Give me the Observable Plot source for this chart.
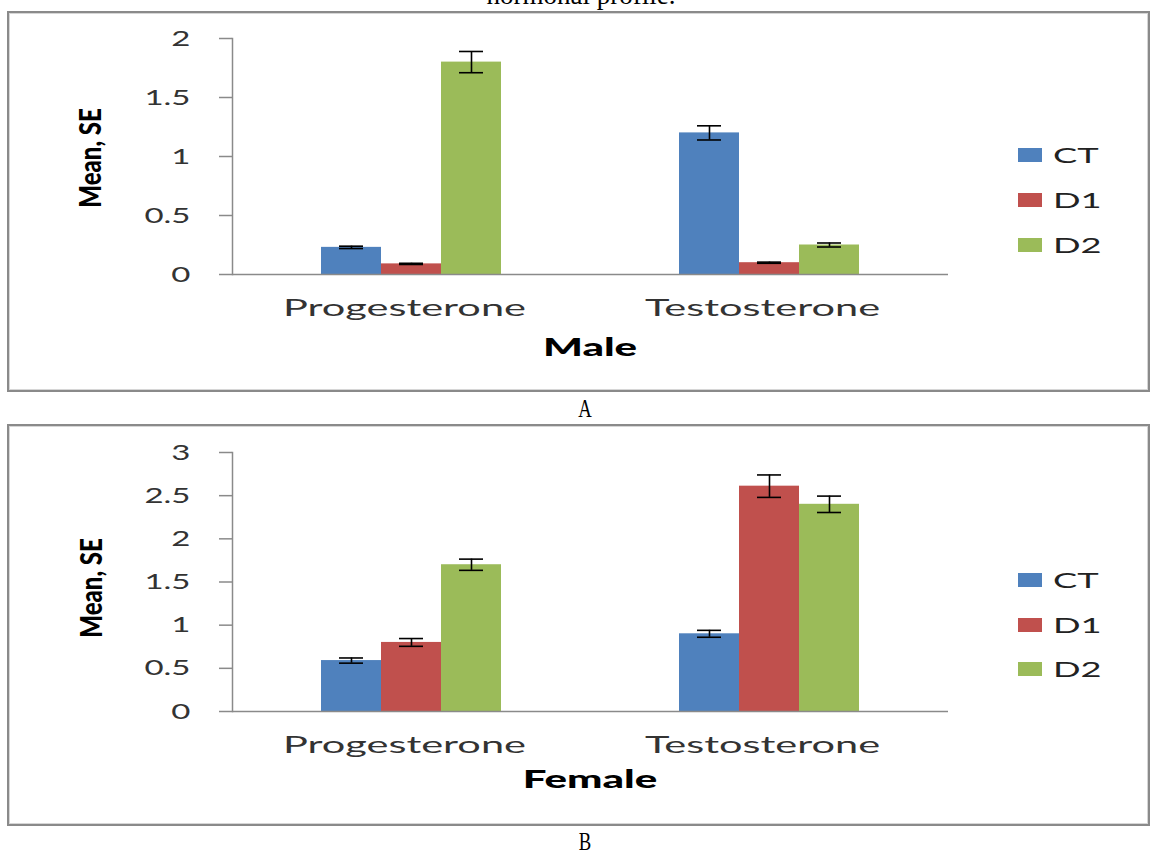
<!DOCTYPE html>
<html>
<head>
<meta charset="utf-8">
<script src="https://cdn.jsdelivr.net/npm/d3@7"></script>
<script src="https://cdn.jsdelivr.net/npm/@observablehq/plot@0.6"></script>
<style>
  html, body { margin: 0; padding: 0; background: #fff; }
  #root { position: relative; width: 1153px; height: 853px; overflow: hidden; background: #fff; }
  .panel { position: absolute; box-sizing: border-box; border: 2px solid #8a8a8a; box-shadow: inset 0 0 0 1px #d6d6d6; }
  .chart { position: absolute; left: 0; }
  .abs { position: absolute; white-space: nowrap; }
  .serif { font-family: "Liberation Serif", "Times New Roman", serif; color: #000; }
  .sans { font-family: Lato, "Open Sans", sans-serif; }
</style>
</head>
<body>
<div id="root"></div>
<script>
// ---------- data ----------
const categories = ["Progesterone", "Testosterone"];
const series = ["CT", "D1", "D2"];
const colors = ["#4F81BD", "#C0504D", "#9BBB59"];

const maleCT = [0.23, 1.20];
const maleD1 = [0.09, 0.10];
const maleD2 = [1.80, 0.25];
const maleCTse = [0.01, 0.06];
const maleD1se = [0.005, 0.005];
const maleD2se = [0.09, 0.017];

const femaleCT = [0.59, 0.90];
const femaleD1 = [0.80, 2.61];
const femaleD2 = [1.70, 2.40];
const femaleCTse = [0.03, 0.04];
const femaleD1se = [0.045, 0.13];
const femaleD2se = [0.065, 0.095];

const yTicksMale = [0, 0.5, 1, 1.5, 2];
const yTicksFemale = [0, 0.5, 1, 1.5, 2, 2.5, 3];

const titleText = "hormonal profile.";
const yLabel = "Mean, SE";
const panelLabels = ["Male", "Female"];
const captions = ["A", "B"];

// ---------- helpers ----------
function table(means, ses) {
  const rows = [];
  categories.forEach((c, i) => {
    series.forEach((s, j) => {
      rows.push({cat: c, series: s, mean: means[j][i], se: ses[j][i]});
    });
  });
  return rows;
}

function stretchText(t, sx, sy = 1) {
  let pre = "";
  const x = t.getAttribute("x"), y = t.getAttribute("y");
  if (x != null && !/em$/.test(x)) { pre += ` translate(${x},0)`; t.removeAttribute("x"); }
  if (y != null && !/em$/.test(y)) { pre += ` translate(0,${y})`; t.removeAttribute("y"); }
  const tr = t.getAttribute("transform") || "";
  t.setAttribute("transform", `${tr}${pre} scale(${sx},${sy})`);
}

const root = document.getElementById("root");

function addDiv(cls, text, css) {
  const d = document.createElement("div");
  d.className = cls;
  if (text != null) d.textContent = text;
  Object.assign(d.style, css);
  root.appendChild(d);
  return d;
}

function makeChart({data, ticks, top, height, marginTop, marginBottom}) {
  const yMax = ticks[ticks.length - 1];
  const chart = Plot.plot({
    width: 1153,
    height,
    marginLeft: 232,
    marginRight: 205,
    marginTop,
    marginBottom,
    style: {fontFamily: "Lato, 'Open Sans', sans-serif", background: "transparent", overflow: "visible"},
    fx: {domain: categories, padding: 0},
    x: {domain: series, paddingInner: 0, paddingOuter: 1.479, axis: null},
    y: {domain: [0, yMax]},
    color: {domain: series, range: colors},
    marks: [
      Plot.barY(data, {fx: "cat", x: "series", y: "mean", fill: "series"}),
      Plot.ruleX(data, {fx: "cat", x: "series", y1: d => d.mean - d.se, y2: d => d.mean + d.se, stroke: "#000", strokeWidth: 1.6}),
      Plot.tickY(data, {fx: "cat", x: "series", y: d => d.mean - d.se, stroke: "#000", strokeWidth: 1.6, insetLeft: 18, insetRight: 18}),
      Plot.tickY(data, {fx: "cat", x: "series", y: d => d.mean + d.se, stroke: "#000", strokeWidth: 1.6, insetLeft: 18, insetRight: 18}),
      Plot.ruleY([0], {stroke: "#8a8a8a", strokeWidth: 1.5}),
      Plot.frame({anchor: "left", facetAnchor: "left", stroke: "#8a8a8a", strokeWidth: 1.5}),
      Plot.axisY({ticks, tickFormat: d => String(d), tickSize: 13, tickPadding: 29, fontSize: 22, label: null, color: "#333", stroke: "#8a8a8a", strokeWidth: 1.5}),
      Plot.axisFx({anchor: "bottom", tickSize: 0, tickPadding: 24, dx: -7, fontSize: 24, label: null, color: "#333"})
    ]
  });
  chart.classList.add("chart");
  chart.style.top = top + "px";
  root.appendChild(chart);
  chart.querySelectorAll('g[aria-label="y-axis tick label"] text').forEach(t => stretchText(t, 1.5));
  chart.querySelectorAll('g[aria-label="fx-axis tick label"] text').forEach(t => stretchText(t, 1.73));
  return chart;
}

// ---------- panels ----------
addDiv("panel", null, {left: "7px", top: "11px", width: "1143px", height: "381px"});
addDiv("panel", null, {left: "7px", top: "424px", width: "1143px", height: "402px"});

// title fragment (cut off at top, as in the source figure)
addDiv("abs serif", titleText, {left: "581px", top: "-18px", fontSize: "27px", lineHeight: "27px", transform: "translateX(-50%)"});

makeChart({
  data: table([maleCT, maleD1, maleD2], [maleCTse, maleD1se, maleD2se]),
  ticks: yTicksMale, top: 11, height: 380, marginTop: 27, marginBottom: 117
});
makeChart({
  data: table([femaleCT, femaleD1, femaleD2], [femaleCTse, femaleD1se, femaleD2se]),
  ticks: yTicksFemale, top: 424, height: 400, marginTop: 28, marginBottom: 113
});

// axis titles, panel labels, legends, captions
const yLabelCenters = [[89, 158], [90, 588]];
const xLabelCenters = [[590, 347], [590, 779]];
const legendCenters = [[155, 200, 245], [580, 625, 669]];
const captionCenters = [[585, 409], [585, 842]];

[0, 1].forEach(p => {
  addDiv("abs sans", yLabel, {
    left: yLabelCenters[p][0] + "px", top: yLabelCenters[p][1] + "px",
    fontSize: "24px", lineHeight: "24px", fontWeight: "900", color: "#000",
    transform: "translate(-50%,-50%) rotate(-90deg) scale(1,1.3)"
  });
  addDiv("abs sans", panelLabels[p], {
    left: xLabelCenters[p][0] + "px", top: xLabelCenters[p][1] + "px",
    fontSize: "24px", lineHeight: "24px", fontWeight: "900", color: "#000",
    transform: "translate(-50%,-50%) scale(1.75,1)"
  });
  series.forEach((s, j) => {
    const cy = legendCenters[p][j];
    addDiv("abs", null, {left: "1018px", top: (cy - 7) + "px", width: "24px", height: "14px", background: colors[j]});
    addDiv("abs sans", s, {
      left: "1053px", top: (cy - 12) + "px", fontSize: "22px", lineHeight: "24px", color: "#222",
      transformOrigin: "left center", transform: "scale(1.65,1)"
    });
  });
  addDiv("abs serif", captions[p], {
    left: captionCenters[p][0] + "px", top: captionCenters[p][1] + "px",
    fontSize: "26px", lineHeight: "26px",
    transform: "translate(-50%,-50%) scale(0.72,1)"
  });
});
</script>
</body>
</html>
